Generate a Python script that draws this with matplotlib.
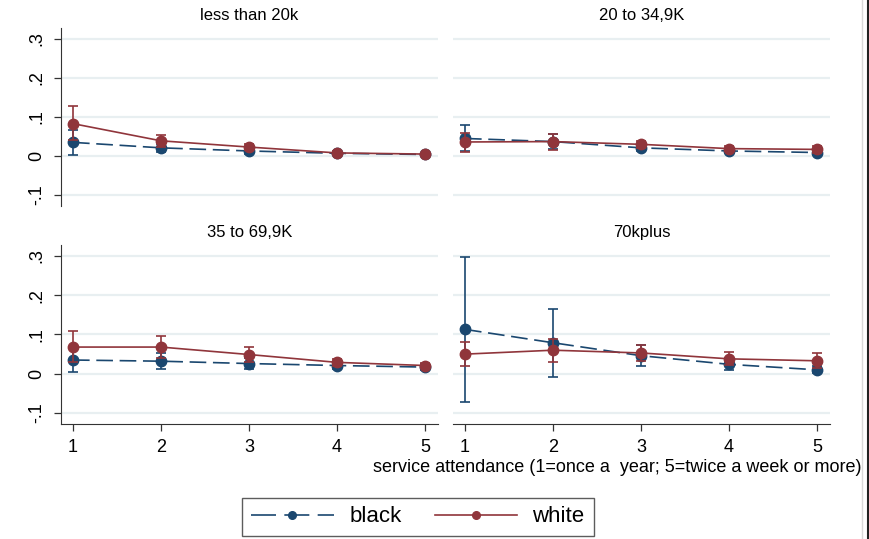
import matplotlib
matplotlib.use("Agg")
import matplotlib.pyplot as plt
from matplotlib.lines import Line2D

plt.rcParams['font.family'] = ['Liberation Sans', 'DejaVu Sans']

# service attendance levels
x = [1, 2, 3, 4, 5]

panel_titles = ["less than 20k", "20 to 34,9K", "35 to 69,9K", "70kplus"]

# predicted margins with 95% CIs, one set per income group
black_mean = [
    [0.035, 0.021, 0.013, 0.007, 0.004],
    [0.045, 0.037, 0.021, 0.013, 0.009],
    [0.035, 0.032, 0.026, 0.021, 0.017],
    [0.113, 0.079, 0.046, 0.024, 0.010],
]
black_lo = [
    [0.003, 0.010, 0.006, 0.003, 0.001],
    [0.012, 0.018, 0.013, 0.007, 0.003],
    [0.004, 0.011, 0.012, 0.012, 0.009],
    [-0.073, -0.008, 0.019, 0.009, 0.001],
]
black_hi = [
    [0.066, 0.032, 0.020, 0.011, 0.007],
    [0.079, 0.056, 0.029, 0.019, 0.015],
    [0.066, 0.052, 0.040, 0.030, 0.025],
    [0.297, 0.164, 0.072, 0.039, 0.020],
]
white_mean = [
    [0.083, 0.039, 0.023, 0.008, 0.005],
    [0.036, 0.037, 0.030, 0.019, 0.017],
    [0.068, 0.068, 0.049, 0.029, 0.021],
    [0.050, 0.060, 0.053, 0.038, 0.033],
]
white_lo = [
    [0.040, 0.024, 0.016, 0.004, 0.002],
    [0.010, 0.016, 0.021, 0.012, 0.008],
    [0.030, 0.040, 0.031, 0.021, 0.014],
    [0.019, 0.031, 0.032, 0.022, 0.015],
]
white_hi = [
    [0.127, 0.054, 0.030, 0.012, 0.008],
    [0.060, 0.057, 0.039, 0.026, 0.026],
    [0.109, 0.096, 0.067, 0.037, 0.028],
    [0.080, 0.089, 0.073, 0.055, 0.052],
]

NAVY = '#1a476f'
MAROON = '#90353b'
GRID = '#e8eff1'

W, H = 870, 539
fig = plt.figure(figsize=(W / 100, H / 100), dpi=100)


def px_axes(x0, y0, x1, y1):
    return fig.add_axes([x0 / W, 1 - y1 / H, (x1 - x0) / W, (y1 - y0) / H])


boxes = [(61, 28, 438, 206), (453, 28, 830, 206),
         (61, 245, 438, 424), (453, 245, 830, 424)]

for i, box in enumerate(boxes):
    ax = px_axes(*box)
    ax.set_xlim(0.864, 5.148)
    ax.set_ylim(-0.128, 0.328)
    for sp in ax.spines.values():
        sp.set_visible(False)
    ax.set_yticks([-0.1, 0, 0.1, 0.2, 0.3])
    ax.yaxis.grid(True, color=GRID, linewidth=1.6)
    ax.set_axisbelow(True)
    ax.set_xticks(x)

    left = i % 2 == 0
    bottom = i >= 2
    if left:
        ax.spines['left'].set_visible(True)
        ax.spines['left'].set_color('#333333')
        ax.set_yticklabels(['-.1', '0', '.1', '.2', '.3'], rotation=90,
                           va='center', fontsize=13)
        ax.tick_params(axis='y', length=5, width=0.9, color='#333333', pad=6)
    else:
        ax.tick_params(axis='y', length=0, labelleft=False)
    if bottom:
        ax.spines['bottom'].set_visible(True)
        ax.spines['bottom'].set_color('#333333')
        ax.tick_params(axis='x', length=5, width=0.9, color='#333333',
                       labelsize=13, pad=6)
    else:
        ax.tick_params(axis='x', length=0, labelbottom=False)

    bm = black_mean[i]
    wm = white_mean[i]
    ax.errorbar(x, bm,
                yerr=[[m - l for m, l in zip(bm, black_lo[i])],
                      [h - m for m, h in zip(bm, black_hi[i])]],
                color=NAVY, ecolor=NAVY, elinewidth=1.2, capsize=3.5,
                capthick=1.2, linestyle=(0, (10, 4)), linewidth=1.2,
                marker='o', markersize=7.5, zorder=3)
    ax.errorbar(x, wm,
                yerr=[[m - l for m, l in zip(wm, white_lo[i])],
                      [h - m for m, h in zip(wm, white_hi[i])]],
                color=MAROON, ecolor=MAROON, elinewidth=1.2, capsize=3.5,
                capthick=1.2, linestyle='-', linewidth=1.2,
                marker='o', markersize=7.5, zorder=4)
    ax.set_title(panel_titles[i], fontsize=12, pad=6)

fig.text(862 / W, 1 - 467 / H, "service attendance (1=once a  year; 5=twice a week or more)",
         ha='right', va='center', fontsize=13)

handles = [
    Line2D([], [], color=NAVY, linestyle=(0, (15, 5)), linewidth=1.2,
           marker='o', markersize=5.5),
    Line2D([], [], color=MAROON, linestyle='-', linewidth=1.2,
           marker='o', markersize=5.5),
]
leg = fig.legend(handles, ['black', 'white'], loc='center',
                 bbox_to_anchor=(418 / W, 1 - 517 / H), ncol=2, fontsize=16,
                 frameon=True, fancybox=False, edgecolor='#333333',
                 handlelength=3.7, columnspacing=1.5, borderpad=0.4,
                 handletextpad=0.7)
leg.get_frame().set_linewidth(1.0)

# outer frame edges on the right
fig.add_artist(Line2D([862 / W, 862 / W], [0, 1], color='#d8d8d8', linewidth=1))
fig.add_artist(Line2D([868 / W, 868 / W], [0, 1], color='#222222', linewidth=1.5))

fig.savefig('out.png', dpi=100, facecolor='white')
